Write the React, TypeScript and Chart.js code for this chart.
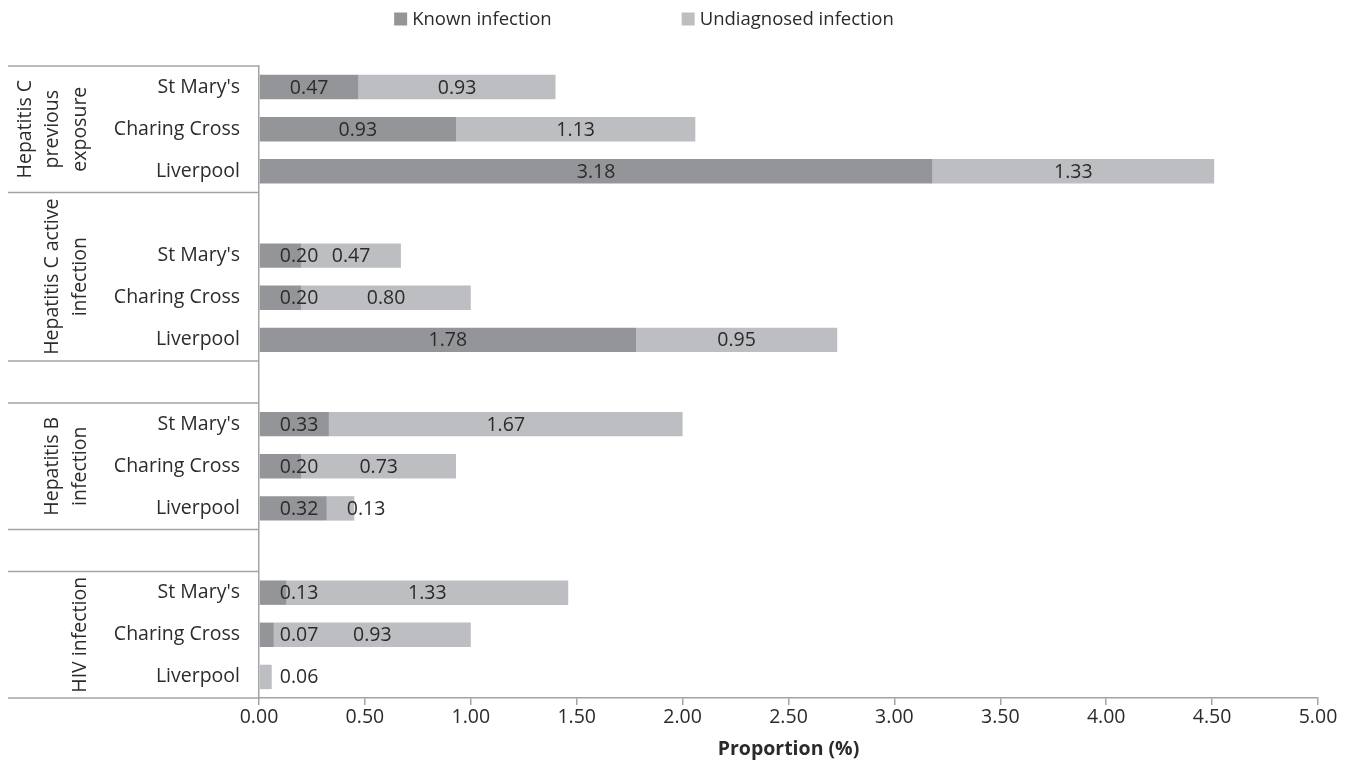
import React, { useEffect, useRef } from 'react';
import { Chart, registerables } from 'chart.js';

Chart.register(...registerables);

// ---- data ----
const subLabels = [
  "St Mary's", 'Charing Cross', 'Liverpool', '',
  "St Mary's", 'Charing Cross', 'Liverpool', '',
  "St Mary's", 'Charing Cross', 'Liverpool', '',
  "St Mary's", 'Charing Cross', 'Liverpool',
];
const knownInfection = [0.47, 0.93, 3.18, null, 0.2, 0.2, 1.78, null, 0.33, 0.2, 0.32, null, 0.13, 0.07, 0];
const undiagnosedInfection = [0.93, 1.13, 1.33, null, 0.47, 0.8, 0.95, null, 1.67, 0.73, 0.13, null, 1.33, 0.93, 0.06];
const groupLabels = [
  ['Hepatitis C', 'previous', 'exposure'],
  ['Hepatitis C active', 'infection'],
  [],
  ['Hepatitis B', 'infection'],
  [],
  ['HIV infection'],
];
const groupSizes = [3, 4, 1, 3, 1, 3];
const seriesNames = ['Known infection', 'Undiagnosed infection'];
const xMin = 0;
const xMax = 5;
const xStep = 0.5;
const axisTitle = 'Proportion (%)';

// ---- styles ----
const FONT = "'Open Sans', sans-serif";
const FS = 19.5;
const LEGEND_FS = 18.5;
const TEXT = '#2b2b2b';
const AXIS = '#a3a3a3';
const COLORS = ['#939598', '#bdbec1'];

const groupPlugin = {
  id: 'groupLabels',
  afterDraw(chart: any) {
    const ctx = chart.ctx;
    const y = chart.scales.y;
    const n = subLabels.length;
    const rowH = (y.bottom - y.top) / n;
    const axisX = chart.chartArea.left;
    ctx.save();
    ctx.strokeStyle = AXIS;
    ctx.lineWidth = 1.5;
    let start = 0;
    const drawLine = (idx: number) => {
      const py = y.getPixelForValue(idx) - rowH / 2;
      ctx.beginPath();
      ctx.moveTo(0, py);
      ctx.lineTo(axisX, py);
      ctx.stroke();
    };
    ctx.font = `${FS}px ${FONT}`;
    ctx.fillStyle = TEXT;
    ctx.textAlign = 'center';
    ctx.textBaseline = 'middle';
    groupSizes.forEach((size, g) => {
      drawLine(start);
      const topPx = y.getPixelForValue(start) - rowH / 2;
      const botPx = y.getPixelForValue(start + size - 1) + rowH / 2;
      const cy = (topPx + botPx) / 2;
      const lines = groupLabels[g];
      const lastX = 72;
      const spacing = 27.5;
      lines.forEach((t, i) => {
        const lx = lastX - (lines.length - 1 - i) * spacing;
        ctx.save();
        ctx.translate(lx, cy);
        ctx.rotate(-Math.PI / 2);
        ctx.fillText(t, 0, 0);
        ctx.restore();
      });
      start += size;
    });
    drawLine(n);
    ctx.restore();
  },
};

const valueLabelPlugin = {
  id: 'valueLabels',
  afterDatasetsDraw(chart: any) {
    const ctx = chart.ctx;
    ctx.save();
    ctx.font = `${FS}px ${FONT}`;
    ctx.fillStyle = TEXT;
    ctx.textAlign = 'center';
    ctx.textBaseline = 'middle';
    chart.data.datasets.forEach((ds: any, di: number) => {
      const meta = chart.getDatasetMeta(di);
      meta.data.forEach((el: any, i: number) => {
        const v = ds.data[i];
        if (v === null || v === undefined || v === 0) return;
        const { x, base, y } = el.getProps(['x', 'base', 'y'], true);
        const txt = v.toFixed(2);
        const tw = ctx.measureText(txt).width;
        const left = Math.min(x, base);
        const right = Math.max(x, base);
        const cx = Math.max((left + right) / 2, left + tw / 2 + 20);
        ctx.fillText(txt, cx, y + 1);
      });
    });
    ctx.restore();
  },
};

const legendPlugin = {
  id: 'customLegend',
  afterDraw(chart: any) {
    const ctx = chart.ctx;
    ctx.save();
    ctx.font = `${LEGEND_FS}px ${FONT}`;
    ctx.textBaseline = 'middle';
    ctx.textAlign = 'left';
    const box = 13;
    const gapBox = 5;
    const gapItems = 130;
    const widths = seriesNames.map((s) => box + gapBox + ctx.measureText(s).width);
    const total = widths.reduce((a, b) => a + b, 0) + gapItems * (seriesNames.length - 1);
    let x = chart.width / 2 - 32 - total / 2;
    const cy = 11;
    seriesNames.forEach((s, i) => {
      ctx.fillStyle = COLORS[i];
      ctx.fillRect(x, cy - box / 2, box, box);
      ctx.fillStyle = TEXT;
      ctx.fillText(s, x + box + gapBox, cy + 1);
      x += widths[i] + gapItems;
    });
    ctx.restore();
  },
};

export default function App() {
  const ref = useRef<HTMLCanvasElement>(null);
  useEffect(() => {
    if (!ref.current) return;
    const chart = new Chart(ref.current, {
      type: 'bar',
      data: {
        labels: subLabels,
        datasets: [
          {
            label: seriesNames[0],
            data: knownInfection,
            backgroundColor: COLORS[0],
            categoryPercentage: 0.58,
            barPercentage: 1,
          },
          {
            label: seriesNames[1],
            data: undiagnosedInfection,
            backgroundColor: COLORS[1],
            categoryPercentage: 0.58,
            barPercentage: 1,
          },
        ] as any,
      },
      options: {
        indexAxis: 'y',
        animation: false,
        responsive: true,
        maintainAspectRatio: false,
        devicePixelRatio: 1,
        layout: { padding: { top: 58, right: 26, left: 0, bottom: 0 } },
        plugins: {
          legend: { display: false },
          tooltip: { enabled: false },
        },
        scales: {
          x: {
            stacked: true,
            min: xMin,
            max: xMax,
            ticks: {
              stepSize: xStep,
              callback: (v: any) => Number(v).toFixed(2),
              font: { family: FONT, size: FS },
              color: TEXT,
              padding: 1,
              maxRotation: 0,
            },
            grid: {
              drawOnChartArea: false,
              drawTicks: true,
              tickLength: 7,
              color: AXIS,
              lineWidth: 1.5,
            },
            border: { display: true, color: AXIS, width: 1.5 },
            title: {
              display: true,
              text: axisTitle,
              font: { family: FONT, size: FS, weight: 'bold' },
              color: TEXT,
              padding: 0,
            },
            afterFit: (s: any) => {
              s.height = 63;
            },
          },
          y: {
            stacked: true,
            ticks: {
              font: { family: FONT, size: FS },
              color: TEXT,
              padding: 19,
              autoSkip: false,
            },
            grid: { drawOnChartArea: false, drawTicks: false },
            border: { display: true, color: AXIS, width: 1.5 },
            afterFit: (s: any) => {
              s.width = 251;
            },
          },
        },
      } as any,
      plugins: [groupPlugin, valueLabelPlugin, legendPlugin],
    });
    return () => chart.destroy();
  }, []);
  return (
    <div style={{ position: 'relative', width: 1336, height: 753 }}>
      <canvas ref={ref} />
    </div>
  );
}
